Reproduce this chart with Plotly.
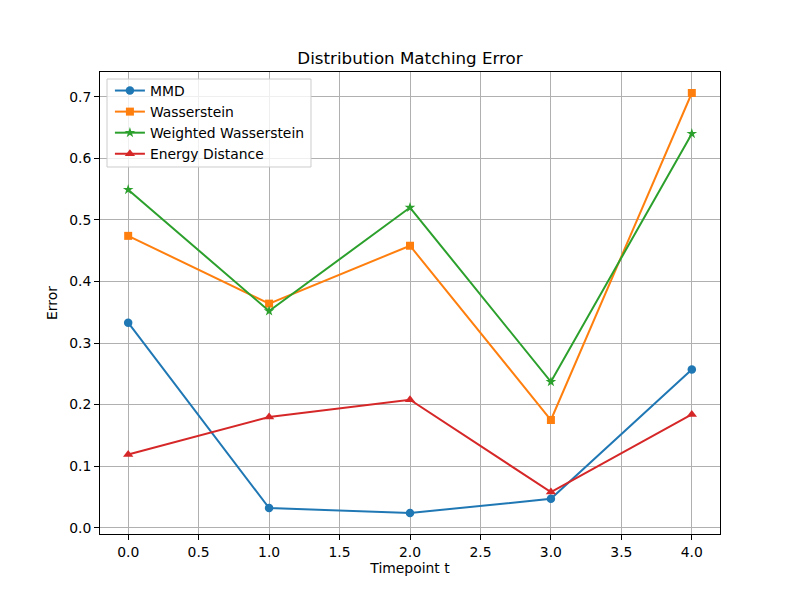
import plotly.graph_objects as go

timepoints = [0, 1, 2, 3, 4]
mmd = [0.333, 0.032, 0.024, 0.047, 0.257]
wasserstein = [0.474, 0.364, 0.458, 0.175, 0.706]
weighted_wasserstein = [0.549, 0.352, 0.520, 0.237, 0.640]
energy_distance = [0.119, 0.180, 0.208, 0.058, 0.184]

series = [
    ("MMD", mmd, "#1f77b4", "circle", 8.5),
    ("Wasserstein", wasserstein, "#ff7f0e", "square", 8),
    ("Weighted Wasserstein", weighted_wasserstein, "#2ca02c", "star", 8),
    ("Energy Distance", energy_distance, "#d62728", "triangle-up", 9),
]

fig = go.Figure()
for name, vals, color, sym, sz in series:
    fig.add_trace(go.Scatter(
        x=timepoints, y=vals, name=name, mode="lines+markers",
        line=dict(color=color, width=2),
        marker=dict(symbol=sym, size=sz, color=color, line=dict(width=0)),
    ))

FS = 13.9
axis_common = dict(
    showgrid=True, gridcolor="#b0b0b0", gridwidth=1,
    showline=True, linecolor="black", linewidth=1, mirror=True,
    ticks="outside", ticklen=5, tickcolor="black",
    zeroline=False, tickfont=dict(size=FS, color="black"),
)

# legend frame drawn as a shape so the legend rows can sit tighter
fig.add_shape(type="rect", xref="x domain", yref="y domain",
              x0=0.0113, x1=0.3403, y0=0.7944, y1=0.9848,
              line=dict(color="#cccccc", width=1),
              fillcolor="rgba(255,255,255,0.8)", layer="above")

# page body has an 8px margin, so margins are offset by -8px
fig.update_layout(
    width=800, height=600,
    paper_bgcolor="white", plot_bgcolor="white",
    font=dict(family="DejaVu Sans", size=FS, color="black"),
    margin=dict(l=92, r=88, t=64, b=74, autoexpand=False),
    title=dict(text="Distribution Matching Error", x=(410 - 8) / 800, xanchor="center",
               y=1 - 50 / 600, yanchor="middle", font=dict(size=16.7)),
    xaxis=dict(range=[-0.2, 4.2], tickvals=[0, 0.5, 1, 1.5, 2, 2.5, 3, 3.5, 4],
               ticktext=["0.0", "0.5", "1.0", "1.5", "2.0", "2.5", "3.0", "3.5", "4.0"],
               title=dict(text="Timepoint t", font=dict(size=FS), standoff=4),
               **axis_common),
    yaxis=dict(range=[-0.0101, 0.7401], tickvals=[0, 0.1, 0.2, 0.3, 0.4, 0.5, 0.6, 0.7],
               ticktext=["0.0", "0.1", "0.2", "0.3", "0.4", "0.5", "0.6", "0.7"],
               title=dict(text="Error", font=dict(size=FS), standoff=8),
               **axis_common),
    legend=dict(x=0.016, y=0.9935, xanchor="left", yanchor="top",
                bgcolor="rgba(0,0,0,0)", borderwidth=0,
                font=dict(size=FS), tracegroupgap=0, itemwidth=30),
    showlegend=True,
)

fig.write_html("out.html")
